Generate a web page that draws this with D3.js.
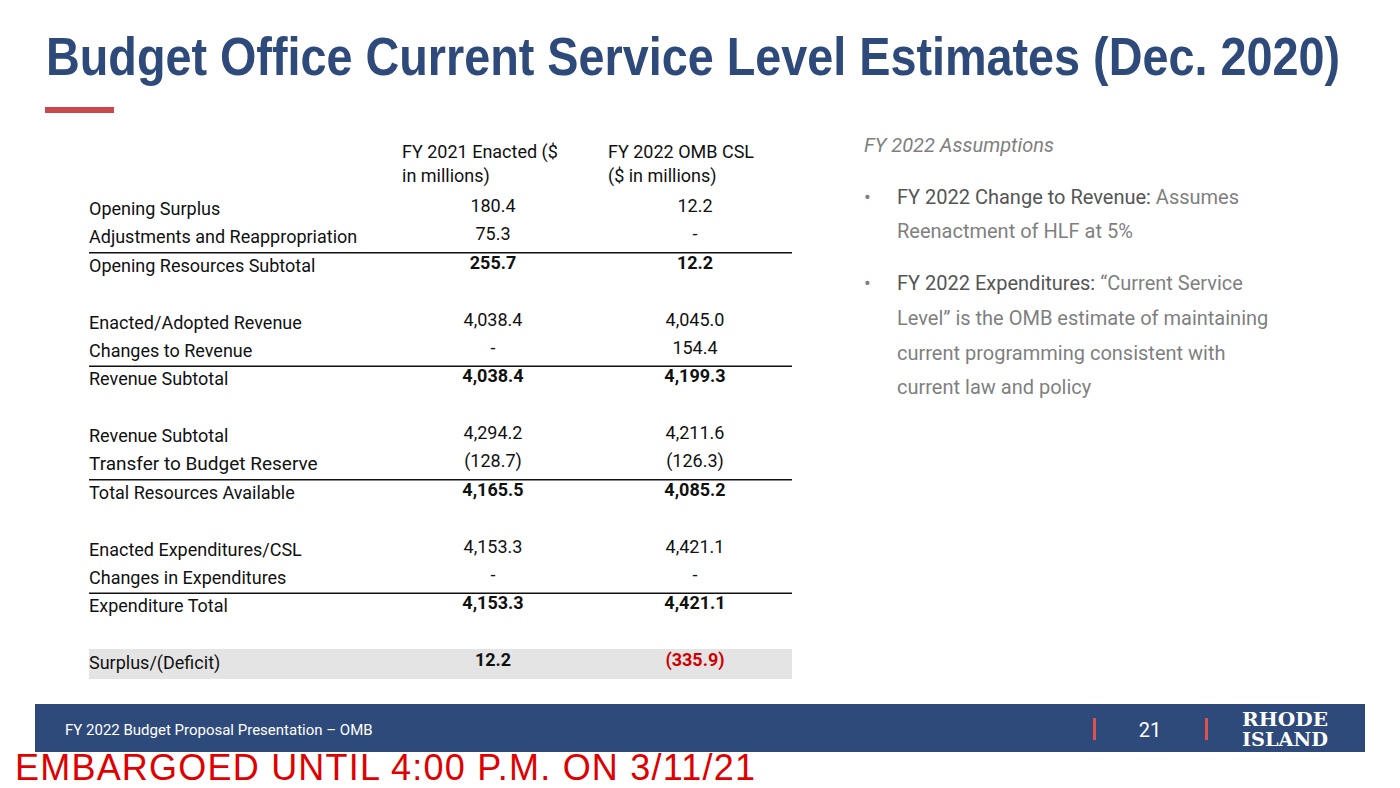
<!DOCTYPE html>
<html><head><meta charset="utf-8">
<script src="https://cdn.jsdelivr.net/npm/d3@7"></script>
<style>body{margin:0;background:#fff}svg{display:block;font-family:Roboto,"Liberation Sans",Arial,sans-serif}</style>
</head><body>
<script>
// table rows (null = blank spacer row)
const labels = ["Opening Surplus","Adjustments and Reappropriation","Opening Resources Subtotal",null,
  "Enacted/Adopted Revenue","Changes to Revenue","Revenue Subtotal",null,
  "Revenue Subtotal","Transfer to Budget Reserve","Total Resources Available",null,
  "Enacted Expenditures/CSL","Changes in Expenditures","Expenditure Total",null,
  "Surplus/(Deficit)"];
const fy2021 = ["180.4","75.3","255.7",null,"4,038.4","-","4,038.4",null,"4,294.2","(128.7)","4,165.5",null,"4,153.3","-","4,153.3",null,"12.2"];
const fy2022 = ["12.2","-","12.2",null,"4,045.0","154.4","4,199.3",null,"4,211.6","(126.3)","4,085.2",null,"4,421.1","-","4,421.1",null,"(335.9)"];
const boldRows = [2,6,10,14,16];
const ruleAbove = [2,6,10,14];
const headers = [["FY 2021 Enacted ($","in millions)"],["FY 2022 OMB CSL","($ in millions)"]];
const bullets = [
  [["FY 2022 Change to Revenue:","#555"],[" Assumes","#7f7f7f"]],
  [["Reenactment of HLF at 5%","#7f7f7f"]],
  null,
  [["FY 2022 Expenditures:","#555"],[" \u201cCurrent Service","#7f7f7f"]],
  [["Level\u201d is the OMB estimate of maintaining","#7f7f7f"]],
  [["current programming consistent with","#7f7f7f"]],
  [["current law and policy","#7f7f7f"]]
];

const svg = d3.select("body").append("svg").attr("width",1400).attr("height",788);
const navy = "#2e4a7b";

svg.append("text").attr("x",46).attr("y",75).attr("fill",navy)
  .style("font-family","'Liberation Sans',Arial,sans-serif")
  .style("font-weight","bold").style("font-size","54px")
  .attr("textLength",1294).attr("lengthAdjust","spacingAndGlyphs")
  .text("Budget Office Current Service Level Estimates (Dec. 2020)");
svg.append("rect").attr("x",45).attr("y",107).attr("width",69).attr("height",6).attr("fill","#c9484b");

const y = d3.scaleLinear().domain([0,16]).range([209,663]);
const x = d3.scaleOrdinal().domain(["label","c1","c2"]).range([89,493,695]);
const left = 89, right = 792;

// grey band for last row
svg.append("rect").attr("x",left).attr("y",y(16)-14).attr("width",right-left).attr("height",30).attr("fill","#e4e4e4");

headers.forEach((h,i)=>{
  const hx = [402,608][i];
  h.forEach((t,j)=>svg.append("text").attr("x",hx).attr("y",158+j*24).attr("font-size",18).attr("fill","#111").text(t));
});

const g = svg.append("g");
labels.forEach((l,i)=>{
  if(l===null) return;
  g.append("text").attr("x",x("label")).attr("y",y(i)+6).attr("font-size",i===9?19:18).attr("fill","#111").text(l);
  [fy2021,fy2022].forEach((arr,c)=>{
    g.append("text").attr("x",x(c?"c2":"c1")).attr("y",y(i)+3).attr("text-anchor","middle")
      .attr("font-size",18).attr("font-weight",boldRows.includes(i)?"bold":"normal")
      .attr("fill",(i===16&&c===1)?"#d00000":"#111").text(arr[i]);
  });
  if(ruleAbove.includes(i))
    g.append("line").attr("x1",left).attr("x2",right).attr("y1",y(i)-13).attr("y2",y(i)-13).attr("stroke","#111").attr("stroke-width",1.3);
});

// right column
svg.append("text").attr("x",864).attr("y",152).attr("font-size",20).attr("font-style","italic").attr("fill","#7f7f7f").text("FY 2022 Assumptions");
const by = [204,238,null,290,325,360,394];
bullets.forEach((ln,i)=>{
  if(!ln) return;
  if(i===0||i===3) svg.append("text").attr("x",864).attr("y",by[i]).attr("font-size",20).attr("fill","#7f7f7f").text("\u2022");
  const t = svg.append("text").attr("x",897).attr("y",by[i]).attr("font-size",20);
  ln.forEach(s=>t.append("tspan").attr("fill",s[1]).text(s[0]));
});

// footer
svg.append("rect").attr("x",35).attr("y",704).attr("width",1330).attr("height",48).attr("fill",navy);
svg.append("text").attr("x",65).attr("y",735).attr("font-size",15).attr("fill","#fff").text("FY 2022 Budget Proposal Presentation \u2013 OMB");
[1093,1205].forEach(px=>svg.append("rect").attr("x",px).attr("y",718).attr("width",3).attr("height",22).attr("fill","#e05050"));
svg.append("text").attr("x",1150).attr("y",737).attr("text-anchor","middle").attr("font-size",20).attr("fill","#fff").text("21");
["RHODE","ISLAND"].forEach((t,i)=>svg.append("text").attr("x",1242).attr("y",726+i*20).attr("font-size",18)
  .attr("font-weight","bold").style("font-family","'DejaVu Serif',serif").attr("fill","#fff")
  .attr("textLength",86).attr("lengthAdjust","spacingAndGlyphs").text(t));

svg.append("text").attr("x",15).attr("y",780).attr("font-size",36).attr("fill","#e00000")
  .style("font-family","'Liberation Sans',Arial,sans-serif").attr("textLength",740).text("EMBARGOED UNTIL 4:00 P.M. ON 3/11/21");
</script>
</body></html>
